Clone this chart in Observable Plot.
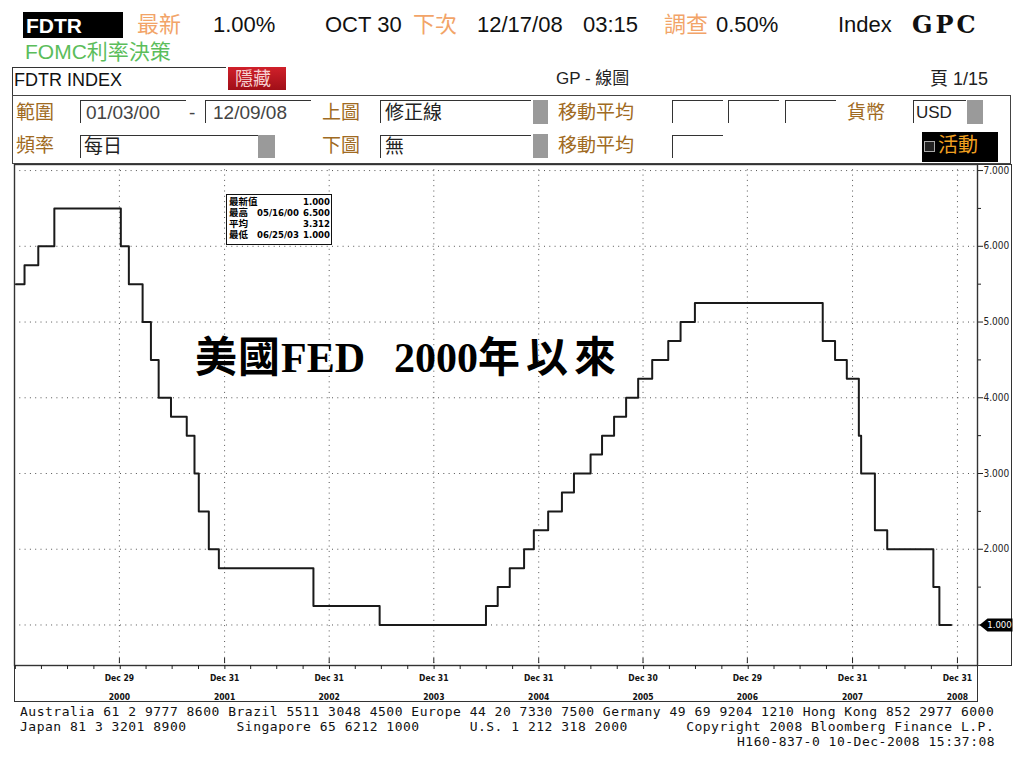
<!DOCTYPE html>
<html><head><meta charset="utf-8">
<script src="https://cdn.jsdelivr.net/npm/d3@7"></script>
<script src="https://cdn.jsdelivr.net/npm/@observablehq/plot@0.6"></script>
<style>
body{margin:0;background:#fff;width:1024px;height:768px;position:relative;overflow:hidden;font-family:"Liberation Sans",Arial,"Noto Sans CJK TC",sans-serif;}
.a{position:absolute;white-space:pre;line-height:1;}
.h1{font-size:22px;top:14px;color:#111;}
.or{color:#f2a468;font-family:"Noto Sans CJK TC",sans-serif;}
.br{color:#a06a22;font-family:"Noto Sans CJK TC",sans-serif;font-size:19px;}
.box{position:absolute;border-top:1.5px solid #333;border-left:1.5px solid #333;height:22px;}
.inp{font-size:19px;color:#444;}
.gray{position:absolute;background:#9a9a9a;}
#chart{position:absolute;left:0;top:160px;}
.lg{position:absolute;font-size:9.5px;line-height:1;white-space:pre;font-family:"DejaVu Sans Condensed","Noto Sans CJK TC",sans-serif;color:#000;font-weight:bold;}
.ft{position:absolute;left:20px;font-family:"DejaVu Sans Mono",monospace;font-size:13px;letter-spacing:0.5px;white-space:pre;line-height:1;color:#111;}
</style></head>
<body>
<!-- header row 1 -->
<div class="a" style="left:23px;top:12px;width:100px;height:26px;background:#000;"></div>
<div class="a h1" style="left:26px;color:#fff;font-weight:bold;font-size:21px;top:15px;">FDTR</div>
<div class="a h1 or" style="left:137px;top:11px;">最新</div>
<div class="a h1" style="left:213px;">1.00%</div>
<div class="a h1" style="left:325px;">OCT 30</div>
<div class="a h1 or" style="left:413px;top:11px;">下次</div>
<div class="a h1" style="left:477px;">12/17/08</div>
<div class="a h1" style="left:583px;">03:15</div>
<div class="a h1 or" style="left:664px;top:11px;">調查</div>
<div class="a h1" style="left:716px;">0.50%</div>
<div class="a h1" style="left:838px;">Index</div>
<div class="a h1" style="left:912px;top:13px;font-family:'DejaVu Serif',serif;font-weight:bold;font-size:24px;letter-spacing:3px;">GPC</div>
<!-- row 2 -->
<div class="a" style="left:25px;top:40px;font-size:21px;color:#5bbd5b;">FOMC<span style="font-family:'Noto Sans CJK TC'">利率決策</span></div>
<!-- row 3 -->
<div class="a" style="left:12px;top:67px;width:213px;height:28px;border-top:1.5px solid #333;border-left:1.5px solid #333;"></div>
<div class="a" style="left:14px;top:71px;font-size:18px;color:#111;">FDTR INDEX</div>
<div class="a" style="left:228px;top:67px;width:58px;height:23px;background:linear-gradient(#d0202a,#a00f18);"></div>
<div class="a" style="left:235px;top:68px;font-size:18px;color:#f6d0d0;font-family:'Noto Sans CJK TC';">隱藏</div>
<div class="a" style="left:556px;top:70px;font-size:17px;color:#222;font-family:'Liberation Sans','Noto Sans CJK TC';">GP - 線圖</div>
<div class="a" style="left:930px;top:70px;font-size:18px;color:#222;font-family:'Liberation Sans','Noto Sans CJK TC';">頁 1/15</div>
<!-- panel -->
<div class="a" style="left:12px;top:95px;width:997px;height:67px;border:1.5px solid #444;"></div>
<div class="a br" style="left:16px;top:101px;">範圍</div>
<div class="box" style="left:80px;top:100px;width:105px;"></div>
<div class="a inp" style="left:86px;top:103px;">01/03/00</div>
<div class="a inp" style="left:189px;top:103px;">-</div>
<div class="box" style="left:205px;top:100px;width:105px;"></div>
<div class="a inp" style="left:213px;top:103px;">12/09/08</div>
<div class="a br" style="left:322px;top:101px;">上圖</div>
<div class="box" style="left:380px;top:100px;width:150px;"></div>
<div class="a inp" style="left:385px;top:101px;color:#222;font-family:'Noto Sans CJK TC';">修正線</div>
<div class="gray" style="left:533px;top:100px;width:15px;height:24px;"></div>
<div class="a br" style="left:558px;top:101px;">移動平均</div>
<div class="box" style="left:672px;top:100px;width:50px;"></div>
<div class="box" style="left:728px;top:100px;width:50px;"></div>
<div class="box" style="left:785px;top:100px;width:50px;"></div>
<div class="a br" style="left:847px;top:101px;">貨幣</div>
<div class="box" style="left:913px;top:100px;width:52px;"></div>
<div class="a" style="left:916px;top:104px;font-size:17px;color:#222;">USD</div>
<div class="gray" style="left:967px;top:100px;width:16px;height:24px;"></div>
<div class="a br" style="left:16px;top:134px;">頻率</div>
<div class="box" style="left:80px;top:135px;width:177px;"></div>
<div class="a inp" style="left:84px;top:135px;color:#222;font-family:'Noto Sans CJK TC';">每日</div>
<div class="gray" style="left:258px;top:135px;width:17px;height:23px;"></div>
<div class="a br" style="left:322px;top:134px;">下圖</div>
<div class="box" style="left:380px;top:135px;width:150px;"></div>
<div class="a inp" style="left:385px;top:135px;color:#222;font-family:'Noto Sans CJK TC';">無</div>
<div class="gray" style="left:533px;top:134px;width:15px;height:24px;"></div>
<div class="a br" style="left:558px;top:134px;">移動平均</div>
<div class="box" style="left:672px;top:135px;width:50px;"></div>
<div class="a" style="left:922px;top:132px;width:76px;height:30px;background:#000;"></div>
<div class="a" style="left:924px;top:141px;width:9px;height:9px;border:1px solid #aaa;background:#222;"></div>
<div class="a" style="left:938px;top:134px;font-size:20px;color:#f0a020;font-family:'Noto Sans CJK TC';">活動</div>
<!-- chart boxes -->
<div class="a" style="left:976px;top:164px;width:35px;height:500px;border:1.4px solid #333;border-left:none;"></div>
<div class="a" style="left:14px;top:665px;width:962px;height:36px;border:1.4px solid #333;border-top:none;"></div>
<div id="chart"></div>
<!-- legend box -->
<div class="a" style="left:226px;top:194px;width:104px;height:49px;border:1.8px solid #111;background:#fff;"></div>
<div id="legend"></div>
<!-- title -->
<div class="a" style="left:195px;top:333px;font-size:42px;font-weight:bold;color:#000;font-family:'Liberation Serif','Noto Sans CJK TC',serif;"><span style="font-family:'Noto Sans CJK TC';letter-spacing:1px;">美國</span><span>FED</span></div>
<div class="a" style="left:394px;top:333px;font-size:42px;font-weight:bold;color:#000;font-family:'Liberation Serif','Noto Sans CJK TC',serif;">2000<span style="font-family:'Noto Sans CJK TC';letter-spacing:6px;">年以來</span></div>
<!-- footer -->
<div class="ft" style="top:705px;">Australia 61 2 9777 8600 Brazil 5511 3048 4500 Europe 44 20 7330 7500 Germany 49 69 9204 1210 Hong Kong 852 2977 6000</div>
<div class="ft" style="top:720px;">Japan 81 3 3201 8900      Singapore 65 6212 1000      U.S. 1 212 318 2000       Copyright 2008 Bloomberg Finance L.P.</div>
<div class="ft" style="top:735px;left:737px;">H160-837-0 10-Dec-2008 15:37:08</div>
<script>
// ---- data ----
const changeDates = ["2000-01-03","2000-02-02","2000-03-21","2000-05-16","2001-01-03","2001-01-31","2001-03-20","2001-04-18","2001-05-15","2001-06-27","2001-08-21","2001-09-17","2001-10-02","2001-11-06","2001-12-11","2002-11-06","2003-06-25","2004-06-30","2004-08-10","2004-09-21","2004-11-10","2004-12-14","2005-02-02","2005-03-22","2005-05-03","2005-06-30","2005-08-09","2005-09-20","2005-11-01","2005-12-13","2006-01-31","2006-03-28","2006-05-10","2006-06-29","2007-09-18","2007-10-31","2007-12-11","2008-01-22","2008-01-30","2008-03-18","2008-04-30","2008-10-08","2008-10-29","2008-12-09"];
const rates = [5.50,5.75,6.00,6.50,6.00,5.50,5.00,4.50,4.00,3.75,3.50,3.00,2.50,2.00,1.75,1.25,1.00,1.25,1.50,1.75,2.00,2.25,2.50,2.75,3.00,3.25,3.50,3.75,4.00,4.25,4.50,4.75,5.00,5.25,4.75,4.50,4.25,3.50,3.00,2.25,2.00,1.50,1.00,1.00];
const xDomain = ["1999-12-29","2009-03-11"];
const yearTickDates = ["2000-12-29","2001-12-31","2002-12-31","2003-12-31","2004-12-31","2005-12-30","2006-12-29","2007-12-31","2008-12-31"];
const yearTickLabels = ["Dec 29\n2000","Dec 31\n2001","Dec 31\n2002","Dec 31\n2003","Dec 31\n2004","Dec 30\n2005","Dec 29\n2006","Dec 31\n2007","Dec 31\n2008"];
const yTicks = [1,2,3,4,5,6,7];
const yMinorTicks = [1.5,2.5,3.5,4.5,5.5,6.5];
const legendLabels = ["最新值","最高","平均","最低"];
const legendDates = ["","05/16/00","","06/25/03"];
const legendValues = ["1.000","6.500","3.312","1.000"];

// ---- build ----
const rows = changeDates.map((d,i)=>({date:new Date(d), rate:rates[i]}));
const last = rows[rows.length-1];
const xd = xDomain.map(d=>new Date(d));
const yearDates = yearTickDates.map(d=>new Date(d));
const labelMap = new Map(yearDates.map((d,i)=>[+d, yearTickLabels[i]]));
const quarterTicks = d3.utcMonth.every(3).range(new Date("2000-01-01"), xd[1]);
const tag = {draw(ctx){ctx.moveTo(0,0);ctx.lineTo(8,-6.5);ctx.lineTo(33,-6.5);ctx.lineTo(33,6.5);ctx.lineTo(8,6.5);ctx.closePath();}};

const chart = Plot.plot({
  width:1024, height:560,
  marginLeft:14, marginRight:47, marginTop:4, marginBottom:55,
  style:{background:"transparent", color:"#222", overflow:"visible"},
  x:{type:"utc", domain:xd, range:[14,977]},
  y:{domain:[0.465,7.08]},
  marks:[
    Plot.gridY(yTicks,{stroke:"#555",strokeOpacity:1,strokeDasharray:"1,4.3"}),
    Plot.gridX(yearDates,{stroke:"#555",strokeOpacity:1,strokeDasharray:"1,4.3"}),
    Plot.line(rows,{x:"date",y:"rate",curve:"step-after",stroke:"#1a1a1a",strokeWidth:2}),
    Plot.frame({stroke:"#333",strokeWidth:1.4}),
    Plot.axisX(quarterTicks,{tickSize:4,tickFormat:()=>"",label:null,stroke:"#222"}),
    Plot.axisX(yearDates,{tickSize:5,tickPadding:4,dy:-7,label:null,tickFormat:d=>labelMap.get(+d),fontSize:8.5,fontWeight:"bold",fontFamily:"'DejaVu Sans Condensed',sans-serif",lineHeight:2.25,fill:"#111"}),
    Plot.axisY(yMinorTicks,{anchor:"right",tickSize:3,tickFormat:()=>"",label:null}),
    Plot.axisY(yTicks,{anchor:"right",tickSize:5,tickPadding:1,label:null,tickFormat:d=>d===last.rate?"":d.toFixed(3),fontSize:10,fontFamily:"'DejaVu Sans Condensed',sans-serif",fill:"#222"}),
    Plot.dot([last],{x:()=>xd[1],y:"rate",symbol:tag,r:5,fill:"#000",stroke:null,dx:2}),
    Plot.text([last],{x:()=>xd[1],y:"rate",text:d=>d.rate.toFixed(3),fill:"#fff",dx:22,fontSize:9.5,fontFamily:"'DejaVu Sans Condensed',sans-serif"})
  ]
});
document.getElementById("chart").appendChild(chart);

// legend text
const lg = document.getElementById("legend");
const tops = [197,208,219,230];
legendLabels.forEach((t,i)=>{
  const a=document.createElement("div");a.className="lg";a.style.left="229px";a.style.top=tops[i]+"px";a.textContent=t;lg.appendChild(a);
  if(legendDates[i]){const b=document.createElement("div");b.className="lg";b.style.left="257px";b.style.top=tops[i]+"px";b.textContent=legendDates[i];lg.appendChild(b);}
  const c=document.createElement("div");c.className="lg";c.style.left="300px";c.style.width="30px";c.style.textAlign="right";c.style.top=tops[i]+"px";c.textContent=legendValues[i];lg.appendChild(c);
});
</script>
</body></html>
